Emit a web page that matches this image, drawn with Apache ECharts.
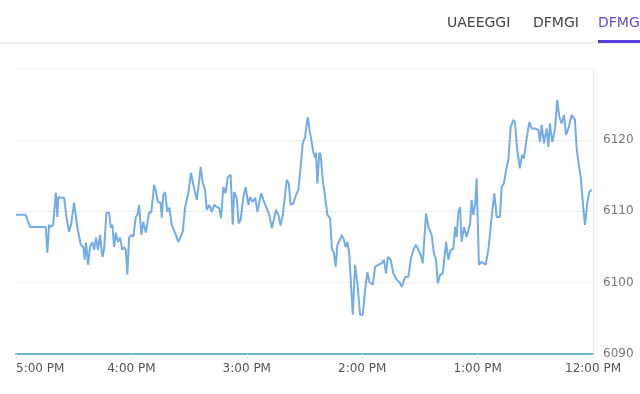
<!DOCTYPE html>
<html>
<head>
<meta charset="utf-8">
<script src="https://cdn.jsdelivr.net/npm/echarts@6/dist/echarts.min.js"></script>
<style>
html,body{margin:0;padding:0;background:#fff;}
#chart{width:640px;height:394px;}
</style>
</head>
<body>
<div id="chart"></div>
<script>
// Minutes after 12:00 PM (x axis runs right-to-left, 12:00 PM on the right)
const minutes = [
300,295,292.7,284.5,283.7,282.8,281.9,280.7,279.3,278.5,278,276.7,275,273.8,272.4,271.2,269.8,268.1,266.3,265,
264.3,263.6,262.5,261.5,260.3,259.4,258.4,257.4,256.3,255.1,254.2,253,251.6,250.7,249.9,249,248.1,247,245.9,244.7,
243.8,242.9,242.1,241.2,240,239,237.7,236.9,236,234.8,233.8,232.5,230.8,229.6,228.2,227.2,226.2,224.8,224.2,223.4,
222.5,221.3,220.3,219,217.3,215.6,214.4,213.3,212.1,210.4,209,207.8,206,205.2,204,202.9,201.7,200.8,199.5,198.2,
197,195.6,194.3,193.4,192.2,191,189.9,188.4,187.3,186.6,185.2,184.2,183.2,181.8,180.6,179.2,178.3,176.9,175.6,174.5,
173.5,172.5,171,169.6,168.3,167,166.2,164.8,163.6,162.4,161.3,160.1,159.2,158.2,157.2,155.8,154.4,153.2,152,150.9,
149.7,148.8,148.3,147.1,146.2,145.4,144.5,144,143.3,142.3,141.6,140.5,139.3,138.1,136.7,135.7,134.8,133.8,132.9,131.5,
130.7,129.5,128.6,127.7,126.7,126,124.9,123.7,122.5,121.1,119.7,118.5,117.3,116.3,114.5,113.3,111.6,109.9,108.7,107.6,
106.7,105.2,103.8,102.1,100.7,99.5,97.7,96,94.8,93.4,92,90.8,89.6,88.5,86.8,85.6,83.9,82.7,81.6,80.7,
79.5,78.1,76.4,75.2,74,72.6,71.7,70.9,70,69.1,68.3,67.1,65.7,63.9,63.1,62.2,61.3,60.5,59.3,57.9,
57,55.8,54.4,52.7,51.3,50.1,48.4,47.5,46.3,45.2,44,42.8,41.4,40.6,39.4,38,36.9,35.9,34.5,33.1,
31.9,30.2,28.4,27.6,26.7,25.5,24.1,23.2,22.4,21.2,19.8,18.6,17.5,16.3,15.1,14,12.8,12,11.1,10.2,
9.4,8.5,7.6,6.4,5.4,4.2,3,1.9,0.7
];
const prices = [
6109.5,6109.5,6107.8,6107.8,6104.2,6108.1,6107.8,6108.1,6112.6,6109.2,6112.0,6111.9,6111.9,6109.2,6107.1,6108.4,6111.2,6107.7,6105.3,6105.0,
6103.2,6105.6,6102.5,6105.0,6105.7,6104.6,6106.3,6104.6,6106.7,6103.6,6104.6,6109.8,6109.8,6107.7,6108.1,6105.0,6107.0,6105.7,6106.3,6104.6,
6105.0,6104.6,6101.1,6106.3,6106.7,6106.4,6109.2,6109.5,6110.9,6106.7,6108.5,6107.0,6109.8,6109.9,6113.7,6112.7,6111.3,6111.2,6109.1,6112.3,
6112.7,6109.9,6110.5,6108.1,6107.0,6105.7,6106.4,6107.1,6110.5,6112.6,6115.4,6113.7,6111.6,6113.3,6116.2,6114.0,6113.0,6110.2,6110.9,6109.9,
6110.9,6110.6,6110.4,6109.0,6113.4,6112.5,6114.8,6115.1,6108.1,6112.7,6111.8,6108.3,6108.8,6112.0,6113.4,6110.9,6112.0,6111.3,6111.9,6109.9,
6111.3,6112.5,6111.3,6110.4,6109.5,6107.6,6107.4,6110.2,6109.5,6108.0,6109.5,6112.3,6114.4,6113.9,6110.9,6111.1,6112.3,6113.0,6116.2,6119.5,
6120.4,6122.3,6123.2,6121.0,6121.1,6118.3,6117.5,6118.2,6113.9,6118.2,6117.9,6114.4,6112.0,6109.5,6109.0,6104.6,6104.3,6102.2,6105.3,6106.0,
6106.7,6106.0,6105.0,6105.7,6103.9,6104.1,6095.5,6102.5,6099.9,6095.5,6095.5,6099.0,6101.5,6100.1,6099.7,6102.2,6102.5,6102.7,6103.2,6101.3,
6103.6,6103.2,6101.3,6100.4,6100.1,6099.4,6100.8,6100.8,6103.2,6104.6,6105.3,6104.6,6103.9,6102.7,6109.7,6107.8,6106.7,6104.1,6103.2,6099.9,
6101.1,6101.3,6105.7,6103.2,6104.6,6104.7,6107.8,6106.4,6109.9,6110.6,6105.7,6107.8,6106.4,6108.3,6111.6,6109.5,6110.9,6114.6,6102.5,6102.9,
6102.9,6102.5,6104.6,6109.2,6112.5,6109.2,6109.2,6113.4,6113.9,6115.8,6117.2,6121.8,6122.8,6122.5,6118.6,6116.0,6117.9,6117.4,6120.2,6122.5,
6121.6,6121.6,6121.4,6119.7,6122.1,6119.5,6121.6,6119.0,6122.3,6119.7,6121.4,6125.6,6123.2,6122.3,6123.5,6120.7,6121.6,6121.4,6123.5,6123.7,
6122.8,6118.8,6116.9,6114.8,6111.6,6108.1,6111.1,6112.7,6113.0
];
const timeTicks = ['12:00 PM','1:00 PM','2:00 PM','3:00 PM','4:00 PM','5:00 PM'];
const tabs = ['UAEEGGI','DFMGI','DFMG'];

const chart = echarts.init(document.getElementById('chart'), null, {renderer:'canvas'});
const seriesData = minutes.map((m,i)=>[m, prices[i]]);
const FONT = '"DejaVu Sans", sans-serif';

chart.setOption({
  animation:false,
  backgroundColor:'#fff',
  grid:{left:16, right:47, top:68.5, bottom:40, containLabel:false},
  xAxis:{
    type:'value', min:0, max:300, interval:60, inverse:true,
    axisLine:{show:true, lineStyle:{color:'#6cb4cf', width:2}},
    axisTick:{show:true, length:5, lineStyle:{color:'#dde6ea'}},
    splitLine:{show:false},
    axisLabel:{
      color:'#555', fontSize:12, fontFamily:FONT, margin:9,
      alignMaxLabel:'left',
      formatter:v=>timeTicks[Math.round(v/60)]
    }
  },
  yAxis:{
    type:'value', position:'right', min:6090, max:6130, interval:10,
    axisLine:{show:true, lineStyle:{color:'#e8ecf0', width:1}},
    axisTick:{show:false},
    splitLine:{show:true, lineStyle:{color:'#eeeeee', width:1}},
    axisLabel:{color:'#777', fontSize:12, fontFamily:FONT, margin:10, showMaxLabel:false,
      formatter:v=> v===6130 ? '' : String(v)}
  },
  series:[{
    type:'line', data:seriesData, showSymbol:false, symbol:'none',
    lineStyle:{color:'#74ace8', width:2}, z:3
  }],
  graphic:[
    {type:'rect', shape:{x:0,y:42.5,width:640,height:1}, style:{fill:'#e6e6e6'}, silent:true},
    {type:'text', x:447, y:16, style:{text:tabs[0], fill:'#444', font:'14px '+FONT}},
    {type:'text', x:533, y:16, style:{text:tabs[1], fill:'#444', font:'14px '+FONT}},
    {type:'text', x:598, y:16, style:{text:tabs[2], fill:'#6a48dc', font:'14px '+FONT}},
    {type:'rect', shape:{x:598,y:40,width:42,height:3}, style:{fill:'#5b3ddc'}, silent:true}
  ]
});
</script>
</body>
</html>
